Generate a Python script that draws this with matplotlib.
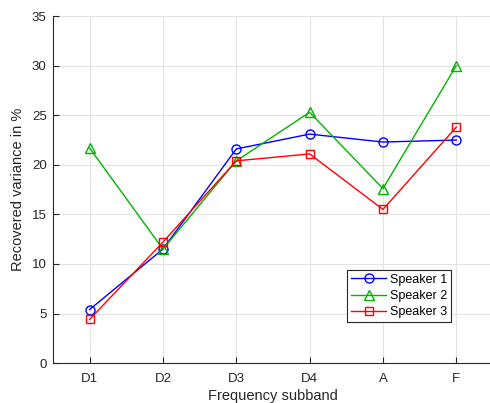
import matplotlib
matplotlib.use("Agg")
import matplotlib.pyplot as plt

subbands = ["D1", "D2", "D3", "D4", "A", "F"]
speaker1 = [5.4, 11.5, 21.6, 23.1, 22.3, 22.5]
speaker2 = [21.7, 11.5, 20.4, 25.3, 17.6, 30.0]
speaker3 = [4.4, 12.2, 20.4, 21.1, 15.5, 23.8]

plt.rcParams["font.family"] = ["Liberation Sans", "DejaVu Sans"]

fig = plt.figure(figsize=(4.9, 4.03), dpi=100)
ax = fig.add_axes([0.108, 0.099, 0.898, 0.861])

x = range(1, len(subbands) + 1)
ax.plot(x, speaker1, color="#0000ff", marker="o", mfc="none", ms=6.5, lw=1.0, label="Speaker 1")
ax.plot(x, speaker2, color="#00b400", marker="^", mfc="none", ms=7.5, lw=1.0, label="Speaker 2")
ax.plot(x, speaker3, color="#ff0000", marker="s", mfc="none", ms=6, lw=1.0, label="Speaker 3")

ax.set_xlim(0.5, 6.5)
ax.set_ylim(0, 35)
ax.set_xticks(list(x))
ax.set_xticklabels(subbands)
ax.set_yticks(range(0, 36, 5))
ax.grid(True, color="#e3e3e3", lw=0.8)
ax.set_axisbelow(True)
for s in ["top", "right"]:
    ax.spines[s].set_visible(False)
for s in ["left", "bottom"]:
    ax.spines[s].set_color("#262626")
    ax.spines[s].set_linewidth(0.8)
ax.tick_params(direction="in", length=4, colors="#262626", labelsize=9.5)
ax.tick_params(axis="x", pad=7)
ax.tick_params(axis="y", pad=4.5)

ax.set_xlabel("Frequency subband", fontsize=10.5, color="#262626", labelpad=3)
ax.set_ylabel("Recovered variance in %", fontsize=10.5, color="#262626", labelpad=5)

leg = ax.legend(loc="lower left", bbox_to_anchor=(0.655, 0.10), fontsize=9,
                fancybox=False, edgecolor="#262626", framealpha=1,
                handlelength=2.8, borderpad=0.3, labelspacing=0.35, handletextpad=0.3)
leg.get_frame().set_linewidth(0.8)

fig.savefig("out.png", dpi=100)
